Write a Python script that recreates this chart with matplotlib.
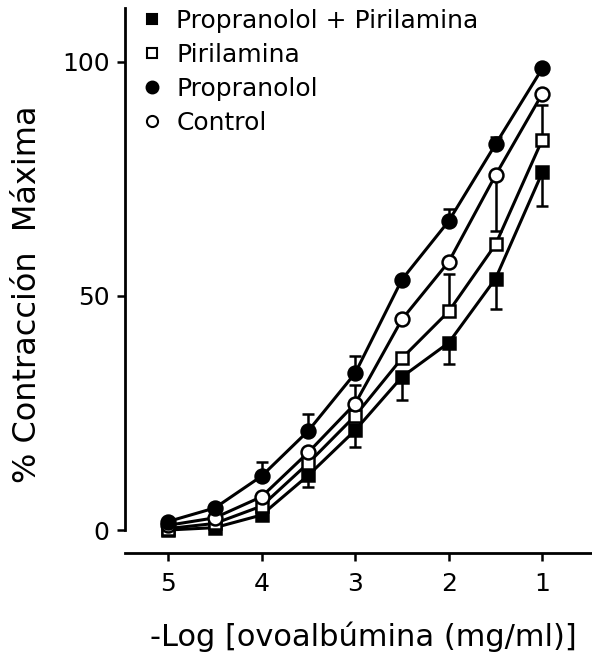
import matplotlib
matplotlib.use("Agg")
import matplotlib.pyplot as plt
from matplotlib.lines import Line2D
import numpy as np

plt.rcParams['font.family'] = ['DejaVu Sans']

# -log [ovalbumin] (mg/ml)
x = [5, 4.5, 4, 3.5, 3, 2.5, 2, 1.5, 1]

propranolol = [1.8, 4.7, 11.5, 21.2, 33.5, 53.5, 66.0, 82.4, 98.6]
propranolol_err_up = [0, 0, 3.1, 3.6, 3.7, 0, 2.5, 1.5, 0]

control = [1.0, 2.6, 7.1, 16.6, 27.0, 45.0, 57.3, 75.8, 93.2]
control_err_lo = [0, 0, 0, 0, 0, 0, 0, 12.0, 0]
control_err_up = [0, 0, 0, 0, 4.0, 0, 0, 0, 0]

pirilamina = [0.3, 1.4, 5.1, 14.3, 24.4, 36.7, 46.7, 61.0, 83.4]
pirilamina_err_up = [0, 0, 0, 0, 0, 0, 8.0, 0, 7.4]

prop_piril = [0.0, 0.5, 3.2, 11.7, 21.3, 32.7, 40.0, 53.7, 76.4]
prop_piril_err_lo = [0, 0, 0, 2.6, 3.5, 5.0, 4.6, 6.6, 7.2]

xticks = [5, 4, 3, 2, 1]
yticks = [0, 50, 100]

fig = plt.figure(figsize=(5.92, 6.63), dpi=100)
ax = fig.add_axes([0.211, 0.166, 0.789, 0.822])

lw = 2.2
cap = 4.5
zeros = [0] * len(x)

def series(y, lo, up, marker, face, ms, z):
    ax.errorbar(x, y, yerr=[lo, up], fmt='-', color='black', lw=lw,
                elinewidth=1.8, capsize=cap, capthick=1.8, zorder=z)
    ax.plot(x, y, linestyle='none', marker=marker, ms=ms, mfc=face,
            mec='black', mew=1.8, zorder=z + 0.5)

series(prop_piril, prop_piril_err_lo, zeros, 's', 'black', 8.5, 2)
series(pirilamina, zeros, pirilamina_err_up, 's', 'white', 8.5, 3)
series(control, control_err_lo, control_err_up, 'o', 'white', 10, 4)
series(propranolol, zeros, propranolol_err_up, 'o', 'black', 10, 5)

ax.set_xlim(5.46, 0.47)
ax.set_ylim(-4.9, 111.5)
ax.set_xticks(xticks)
ax.set_xticklabels([str(t) for t in xticks])
ax.set_yticks(yticks)
ax.set_yticklabels([str(t) for t in yticks])

for s in ['top', 'right']:
    ax.spines[s].set_visible(False)
ax.spines['left'].set_bounds(0, 111.5)
ax.spines['left'].set_linewidth(2.0)
ax.spines['bottom'].set_linewidth(2.0)
ax.tick_params(axis='both', direction='out', length=6, width=1.8,
               labelsize=18, pad=5)
ax.tick_params(axis='x', pad=8)

ax.set_xlabel('-Log [ovoalbúmina (mg/ml)]', fontsize=22)
ax.xaxis.set_label_coords(0.51, -0.125)
ax.set_ylabel('% Contracción  Máxima', fontsize=23)
ax.yaxis.set_label_coords(-0.175, 0.475)

handles = [
    Line2D([], [], linestyle='none', marker='s', ms=7, mfc='black', mec='black', mew=1.5),
    Line2D([], [], linestyle='none', marker='s', ms=7, mfc='white', mec='black', mew=1.5),
    Line2D([], [], linestyle='none', marker='o', ms=8.5, mfc='black', mec='black', mew=1.5),
    Line2D([], [], linestyle='none', marker='o', ms=8, mfc='white', mec='black', mew=1.5),
]
labels = ['Propranolol + Pirilamina', 'Pirilamina', 'Propranolol', 'Control']
ax.legend(handles, labels, loc='upper left', bbox_to_anchor=(0.0, 1.03),
          frameon=False, fontsize=18, handlelength=0.8, handletextpad=0.55,
          labelspacing=0.4, borderaxespad=0.3)

fig.savefig('out.png', dpi=100)
